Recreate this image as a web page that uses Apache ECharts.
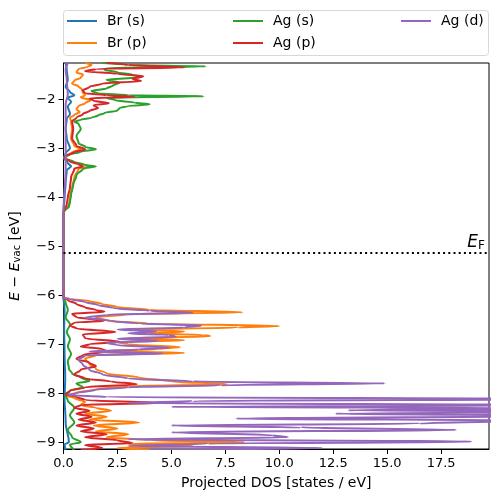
<!DOCTYPE html>
<html>
<head>
<meta charset="utf-8">
<script src="https://cdn.jsdelivr.net/npm/echarts@6/dist/echarts.min.js"></script>
<style>html,body{margin:0;padding:0;background:#fff}#c{width:498px;height:502px}</style>
</head>
<body>
<div id="c"></div>
<script>
// ---- data (energy in eV relative to vacuum, DOS in states/eV) ----
const seriesNames = ['Br (s)', 'Br (p)', 'Ag (s)', 'Ag (p)', 'Ag (d)'];
const xTicks = [0, 2.5, 5, 7.5, 10, 12.5, 15, 17.5];
const yTicks = [-9, -8, -7, -6, -5, -4, -3, -2];
const fermiLevel = -5.13;

const brsE = [-1.26,-1.4,-1.6,-1.75,-1.85,-1.92,-1.97,-2.05,-2.15,-2.3,-2.4,-2.6,-2.8,-3.0,-3.1,-3.2,-3.3,-3.37,-3.45,-3.7,-4.0,-4.3,
              -6.05,-6.3,-6.7,-7.2,-7.7,-8.1,-8.6,-9.0,-9.05,-9.16];
const brsD = [0.1,0.15,0.2,0.1,0.3,0.5,0.2,0.35,0.2,0.3,0.15,0.1,0.15,0.3,0.1,0.02,0.2,0.35,0.15,0.1,0.05,0,
              0,0.05,0.03,0.05,0.08,0.05,0.1,0.25,0.05,0.1];

const brpE = [-1.26,-1.3,-1.34,-1.38,-1.45,-1.5,-1.56,-1.62,-1.68,-1.74,-1.8,-1.86,-1.92,-1.96,-2.02,-2.08,-2.14,-2.2,-2.26,-2.32,-2.38,-2.45,-2.6,-2.8,-2.95,-3.02,-3.08,-3.15,-3.2,-3.27,-3.33,-3.37,-3.42,-3.6,-3.8,-4.0,-4.15,-4.22,-4.3,
              -6.05,-6.08,-6.12,-6.18,-6.24,-6.3,-6.35,-6.39,-6.45,-6.52,-6.58,-6.63,-6.66,-6.7,-6.74,-6.78,-6.81,-6.84,-6.88,-6.92,-6.96,-7.0,-7.06,-7.1,-7.14,-7.18,-7.22,-7.3,-7.4,-7.5,-7.6,-7.68,-7.76,-7.82,-7.86,-7.92,-8.0,-8.05,-8.1,-8.18,-8.24,-8.3,-8.36,-8.42,-8.48,-8.54,-8.6,-8.66,-8.72,-8.78,-8.84,-8.9,-8.96,-9.0,-9.04,-9.08,-9.12,-9.16];
const brpD = [1.0,1.3,1.1,0.7,0.6,0.9,0.8,0.5,0.4,0.7,0.85,0.9,1.0,0.8,1.25,1.0,0.7,0.6,0.75,0.5,0.3,0.35,0.4,0.35,0.5,0.8,0.4,0.15,0.05,0.4,0.9,1.2,0.7,0.5,0.4,0.3,0.25,0.15,0,
              0,0.3,1.2,1.8,2.5,4.0,8.3,3.0,1.5,2.0,4.0,10.0,8.1,3.0,5.6,4.0,6.5,6.8,3.0,5.6,2.5,3.0,5.4,4.4,2.0,5.6,1.5,1.0,1.2,1.5,2.0,3.5,5.0,7.6,3.0,1.5,0.5,0.1,0.5,1.0,0.8,1.5,2.2,1.0,2.0,1.2,3.5,1.4,2.5,1.5,3.0,2.0,4.0,8.4,3.0,6.0,2.5,4.0];

const agsE = [-1.26,-1.3,-1.33,-1.36,-1.4,-1.45,-1.5,-1.55,-1.6,-1.66,-1.72,-1.78,-1.83,-1.88,-1.92,-1.94,-1.97,-2.02,-2.07,-2.1,-2.14,-2.18,-2.23,-2.28,-2.33,-2.38,-2.42,-2.46,-2.5,-2.6,-2.75,-2.9,-2.97,-3.02,-3.07,-3.13,-3.18,-3.22,-3.28,-3.34,-3.37,-3.42,-3.55,-3.75,-3.95,-4.1,-4.2,-4.25,-4.3,
              -6.05,-6.15,-6.3,-6.45,-6.6,-6.75,-6.9,-7.05,-7.2,-7.35,-7.5,-7.6,-7.68,-7.75,-7.8,-7.88,-7.95,-8.05,-8.15,-8.3,-8.45,-8.6,-8.75,-8.9,-9.0,-9.05,-9.16];
const agsD = [1.8,3.0,6.6,2.0,1.9,2.5,3.2,3.6,2.0,2.6,2.3,2.0,1.3,1.6,3.0,6.5,2.0,2.4,3.3,4.0,3.0,2.6,2.5,1.9,1.6,1.3,0.8,0.5,0.7,0.8,0.6,0.7,1.0,1.5,0.8,0.3,0.05,0.1,0.5,1.0,1.5,0.9,0.6,0.45,0.35,0.3,0.25,0.1,0,
              0,0.1,0.2,0.1,0.3,0.15,0.3,0.2,0.35,0.2,0.25,0.4,0.8,1.2,0.6,0.9,0.3,0.1,0.2,0.5,0.3,0.5,0.2,0.4,0.8,0.3,0.5];

const agpE = [-1.26,-1.3,-1.35,-1.38,-1.43,-1.48,-1.53,-1.58,-1.63,-1.68,-1.75,-1.82,-1.88,-1.92,-1.95,-1.98,-2.03,-2.08,-2.12,-2.18,-2.24,-2.3,-2.38,-2.45,-2.6,-2.8,-2.95,-3.02,-3.08,-3.15,-3.2,-3.27,-3.33,-3.37,-3.42,-3.6,-3.8,-4.0,-4.15,-4.25,-4.3,
              -6.05,-6.1,-6.18,-6.25,-6.3,-6.34,-6.38,-6.45,-6.52,-6.56,-6.62,-6.68,-6.75,-6.8,-6.88,-6.95,-7.0,-7.05,-7.1,-7.15,-7.22,-7.3,-7.38,-7.45,-7.52,-7.62,-7.7,-7.76,-7.82,-7.88,-7.95,-8.02,-8.08,-8.14,-8.2,-8.24,-8.3,-8.36,-8.42,-8.48,-8.54,-8.6,-8.66,-8.72,-8.78,-8.84,-8.9,-8.96,-9.02,-9.06,-9.12,-9.16];
const agpD = [2.0,3.0,5.6,1.5,1.0,2.5,3.7,3.2,3.6,1.8,1.2,0.9,1.0,2.0,3.3,1.2,1.4,2.1,1.4,1.6,1.2,0.9,0.6,0.4,0.45,0.4,0.6,1.0,0.5,0.15,0.05,0.3,0.7,0.9,0.5,0.35,0.3,0.2,0.15,0.05,0,
              0,0.2,0.6,1.0,1.5,1.9,0.4,0.6,1.9,0.5,0.3,0.6,2.4,0.9,1.0,2.6,1.2,0.8,1.8,2.0,0.9,0.6,1.2,1.5,0.8,0.5,1.0,2.2,3.4,1.0,0.3,0.1,0.6,1.0,4.4,0.8,0.5,1.2,0.6,1.3,0.7,1.5,0.6,1.4,0.8,2.0,1.0,2.5,3.2,1.0,1.8,0.8];

const agdE = [-1.26,-1.4,-1.6,-1.9,-2.1,-2.4,-3.0,-3.4,-4.3,
              -6.05,-6.08,-6.14,-6.2,-6.26,-6.32,-6.36,-6.4,-6.46,-6.52,-6.58,-6.62,-6.66,-6.7,-6.74,-6.78,-6.81,-6.85,-6.89,-6.93,-6.97,-7.02,-7.07,-7.11,-7.15,-7.19,-7.23,-7.32,-7.42,-7.52,-7.62,-7.7,-7.76,-7.8,-7.84,-7.88,-7.93,-8.0,-8.04,-8.08,-8.12,-8.16,-8.2,-8.24,-8.28,-8.31,-8.35,-8.38,-8.42,-8.46,-8.52,-8.56,-8.62,-8.66,-8.7,-8.75,-8.8,-8.86,-8.9,-8.94,-8.99,-9.03,-9.08,-9.12,-9.16];
const agdD = [0.2,0.1,0.15,0.2,0.1,0.1,0.1,0.1,0,
              0,0.3,1.0,1.6,2.3,4.0,6.0,2.0,1.0,2.2,3.5,6.4,5.6,2.5,4.3,3.0,4.9,5.2,2.5,4.4,2.0,2.5,4.9,3.5,1.2,4.6,1.0,0.7,0.9,1.2,1.8,3.0,6.0,14.9,7.3,3.0,1.5,0.6,0.2,2.0,25,6,3.0,24,5,22,13.2,25,12.6,24,8,22,16.5,5,11,18.2,5,9.7,10.4,3,18.9,6.7,3,12,4];

const energyArrays = [brsE, brpE, agsE, agpE, agdE];
const dosArrays = [brsD, brpD, agsD, agpD, agdD];
const colors = ['#1f77b4', '#ff7f0e', '#2ca02c', '#d62728', '#9467bd'];

// ---- chart ----
const FONT = 'DejaVu Sans';
const fmtMinus = v => (v < 0 ? '\u2212' + Math.abs(v) : String(v));

const series = seriesNames.map((name, i) => ({
  name,
  type: 'line',
  data: energyArrays[i].map((e, k) => [dosArrays[i][k], e]),
  showSymbol: false,
  symbol: 'none',
  clip: true,
  smooth: 0.35,
  smoothMonotone: 'y',
  lineStyle: { color: colors[i], width: 2 },
  itemStyle: { color: colors[i] },
  animation: false,
  silent: true
}));

series.push({
  name: 'fermi',
  type: 'line',
  data: [],
  silent: true,
  animation: false,
  markLine: {
    silent: true,
    symbol: 'none',
    animation: false,
    lineStyle: { color: '#000', type: [2, 3.2], width: 2 },
    label: {
      show: true,
      position: 'insideEndTop',
      distance: [4, 1],
      formatter: '{i|E}{s|F}',
      rich: {
        i: { fontFamily: FONT, fontStyle: 'italic', fontSize: 17, color: '#000' },
        s: { fontFamily: FONT, fontSize: 12, color: '#000', verticalAlign: 'bottom', padding: [6, 0, 0, 0] }
      }
    },
    data: [{ yAxis: fermiLevel }]
  }
});

const legendBase = {
  icon: 'rect', itemWidth: 30, itemHeight: 2, padding: 0, selectedMode: false,
  textStyle: { fontFamily: FONT, fontSize: 14, color: '#000', padding: [0, 0, 0, 5] }
};
const legendPos = [[67, 14], [67, 36], [233, 14], [233, 36], [401, 14]];

const chart = echarts.init(document.getElementById('c'), null, { renderer: 'canvas' });
chart.setOption({
  animation: false,
  backgroundColor: '#fff',
  color: colors,
  graphic: [{
    type: 'rect', shape: { x: 63.5, y: 10.5, width: 425, height: 45, r: 3 },
    style: { fill: '#fff', stroke: '#d8d8d8', lineWidth: 1 }, z: 0, silent: true
  }],
  legend: seriesNames.map((n, i) => Object.assign({}, legendBase, { data: [n], left: legendPos[i][0], top: legendPos[i][1] })),
  grid: { left: 63, right: 9, top: 63, bottom: 53, show: true, borderColor: '#000', borderWidth: 1, containLabel: false },
  xAxis: {
    type: 'value', min: 0, max: 19.72,
    name: 'Projected DOS [states / eV]', nameLocation: 'middle', nameGap: 27,
    nameTextStyle: { fontFamily: FONT, fontSize: 14, color: '#000' },
    axisLine: { show: true, lineStyle: { color: '#000', width: 1 } },
    axisTick: { show: true, length: 5, lineStyle: { color: '#000' }, customValues: xTicks },
    axisLabel: { fontFamily: FONT, fontSize: 13, color: '#000', margin: 8, customValues: xTicks, formatter: v => v.toFixed(1) },
    splitLine: { show: false }
  },
  yAxis: {
    type: 'value', min: -9.14, max: -1.26,
    name: '{i|E} \u2212 {i|E}{s|vac} [eV]', nameLocation: 'middle', nameGap: 41, nameRotate: 90,
    nameTextStyle: {
      fontFamily: FONT, fontSize: 14, color: '#000',
      rich: {
        i: { fontFamily: FONT, fontStyle: 'italic', fontSize: 14, color: '#000' },
        s: { fontFamily: FONT, fontSize: 10, color: '#000', verticalAlign: 'bottom', padding: [5, 0, 0, 0] }
      }
    },
    axisLine: { show: true, onZero: false, lineStyle: { color: '#000', width: 1 } },
    axisTick: { show: true, length: 5, lineStyle: { color: '#000' }, customValues: yTicks },
    axisLabel: { fontFamily: FONT, fontSize: 13, color: '#000', margin: 8, customValues: yTicks, formatter: fmtMinus },
    splitLine: { show: false }
  },
  series
});
</script>
</body>
</html>
